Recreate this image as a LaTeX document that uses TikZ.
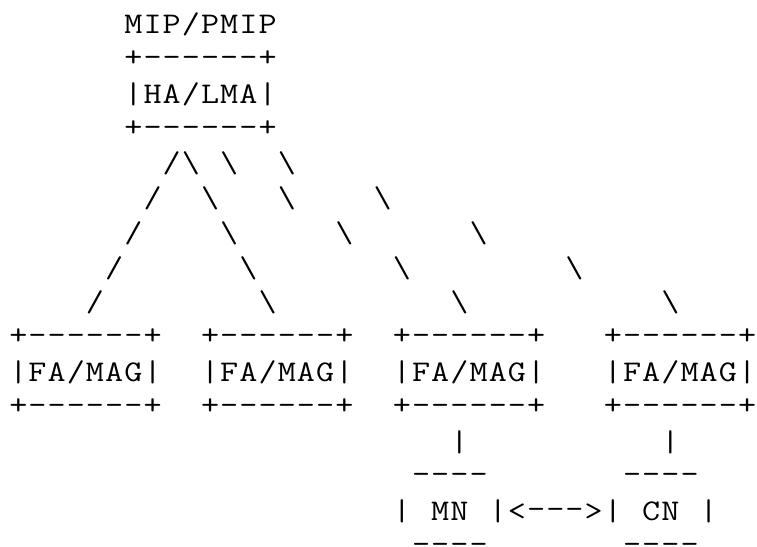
\documentclass[tikz,border=0pt]{standalone}
\usepackage{fontspec}
\usepackage{graphicx}
\ExplSyntaxOn
\NewDocumentCommand\mono{m}{
  \tl_map_inline:nn {#1}
    {
      \makebox[19.18pt][c]{
        \scalebox{1.17}[1]{
        \tl_if_eq:nnTF {##1} {-} {\raisebox{2pt}{-}}
          { \tl_if_eq:nnTF {##1} {+} {\raisebox{2pt}{+}} {##1} }
        }
      }
    }
}
\ExplSyntaxOff
\newcommand\seg[4]{\node[asc] (#1) at ({8.7+#2*19.18},{512-(#3-1)*34.75}) {\mono{#4}};}
\tikzset{asc/.style={font=\ttfamily\fontsize{30pt}{34pt}\selectfont,
  anchor=base west, inner sep=0pt, outer sep=0pt, text=black}}
\begin{document}
\begin{tikzpicture}[x=1pt,y=1pt]
\fill[white] (0,0) rectangle (757,546);
\useasboundingbox (0,0) rectangle (757,546);
% top: HA/LMA box
\seg{mip}{6}{1}{MIP/PMIP}
\seg{hatop}{6}{2}{+------+}
\seg{ha}{6}{3}{|HA/LMA|}
\seg{habot}{6}{4}{+------+}
% connector slashes
\seg{aa}{8}{5}{/\textbackslash}
\seg{ab}{11}{5}{\textbackslash}
\seg{ac}{14}{5}{\textbackslash}
\seg{ba}{7}{6}{/}
\seg{bb}{10}{6}{\textbackslash}
\seg{bc}{14}{6}{\textbackslash}
\seg{bd}{19}{6}{\textbackslash}
\seg{ca}{6}{7}{/}
\seg{cb}{11}{7}{\textbackslash}
\seg{cc}{17}{7}{\textbackslash}
\seg{cd}{24}{7}{\textbackslash}
\seg{da}{5}{8}{/}
\seg{db}{12}{8}{\textbackslash}
\seg{dc}{20}{8}{\textbackslash}
\seg{dd}{29}{8}{\textbackslash}
\seg{ea}{4}{9}{/}
\seg{eb}{13}{9}{\textbackslash}
\seg{ec}{23}{9}{\textbackslash}
\seg{ed}{34}{9}{\textbackslash}
% FA/MAG boxes
\seg{f1t}{0}{10}{+------+}
\seg{f2t}{10}{10}{+------+}
\seg{f3t}{20}{10}{+------+}
\seg{f4t}{31}{10}{+------+}
\seg{f1}{0}{11}{|FA/MAG|}
\seg{f2}{10}{11}{|FA/MAG|}
\seg{f3}{20}{11}{|FA/MAG|}
\seg{f4}{31}{11}{|FA/MAG|}
\seg{f1b}{0}{12}{+------+}
\seg{f2b}{10}{12}{+------+}
\seg{f3b}{20}{12}{+------+}
\seg{f4b}{31}{12}{+------+}
% MN / CN
\seg{v3}{23}{13}{|}
\seg{v4}{34}{13}{|}
\seg{mnt}{21}{14}{----}
\seg{cnt}{32}{14}{----}
\seg{mnl}{20}{15}{|}
\seg{mn}{22}{15}{MN}
\seg{link}{25}{15}{|<--->|}
\seg{cn}{33}{15}{CN}
\seg{cnr}{36}{15}{|}
\seg{mnb}{21}{16}{----}
\seg{cnb}{32}{16}{----}
\end{tikzpicture}
\end{document}
